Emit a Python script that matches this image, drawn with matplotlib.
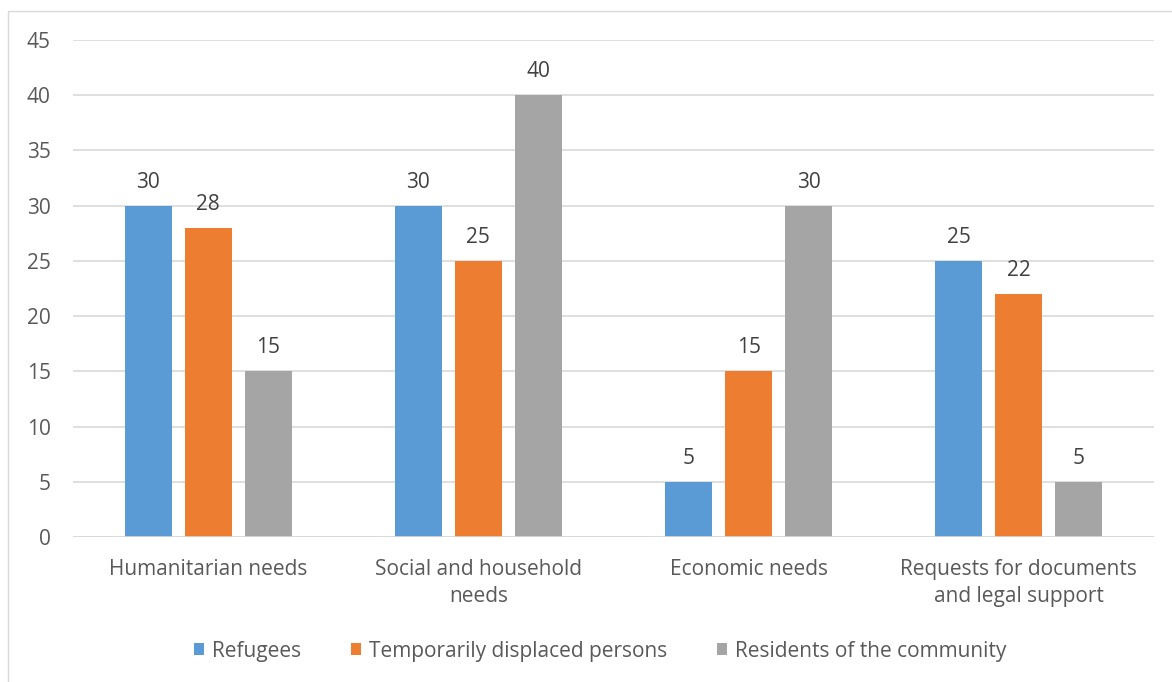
import numpy as np
import matplotlib.pyplot as plt
from matplotlib.patches import Rectangle

# data
categories = ['Humanitarian needs', 'Social and household\nneeds', 'Economic needs',
              'Requests for documents\nand legal support']
series_names = ['Refugees', 'Temporarily displaced persons', 'Residents of the community']
refugees = [30, 30, 5, 25]
displaced = [28, 25, 15, 22]
residents = [15, 40, 30, 5]

colors = ['#5b9bd5', '#ed7d31', '#a5a5a5']
txt = '#595959'
plt.rcParams['font.family'] = ['Open Sans', 'DejaVu Sans']

fig = plt.figure(figsize=(11.72, 6.82), dpi=100)
ax = fig.add_axes([73/1172, 1 - 537/682, (1154 - 73)/1172, (537 - 40)/682])

# light chart border
fig.patches.append(Rectangle((8/1172, -0.01), 1.2, 1 - 11/682 + 0.01, transform=fig.transFigure,
                             fill=False, edgecolor='#d9d9d9', linewidth=1))

x = np.arange(len(categories))
width = 0.174
step = 0.222
for i, (vals, name) in enumerate(zip([refugees, displaced, residents], series_names)):
    pos = x + (i - 1) * step
    bars = ax.bar(pos, vals, width, color=colors[i], label=name, zorder=3)
    for b, v in zip(bars, vals):
        ax.annotate(str(v), (b.get_x() + b.get_width()/2, v), xytext=(0, 17),
                    textcoords='offset points', ha='center', va='center',
                    fontsize=15, color='#404040')

ax.set_xlim(-0.5, 3.5)
ax.set_ylim(0, 45)
ax.set_yticks(range(0, 46, 5))
ax.grid(axis='y', color='#d9d9d9', linewidth=1.2, zorder=0)
for s in ax.spines.values():
    s.set_visible(False)
ax.axhline(0, color='#d9d9d9', linewidth=1.2, zorder=4)
ax.tick_params(length=0, labelsize=15, labelcolor=txt)
ax.tick_params(axis='y', pad=16)
ax.tick_params(axis='x', pad=16)
ax.set_xticks(x)
ax.set_xticklabels(categories, linespacing=1.35)

fig.legend(loc='center', bbox_to_anchor=(600/1172, 1 - 651/682), ncol=3, frameon=False,
           fontsize=15, labelcolor=txt, handlelength=0.5, handleheight=0.5,
           handletextpad=0.35, columnspacing=2.4)

fig.savefig('out.png', dpi=100)
